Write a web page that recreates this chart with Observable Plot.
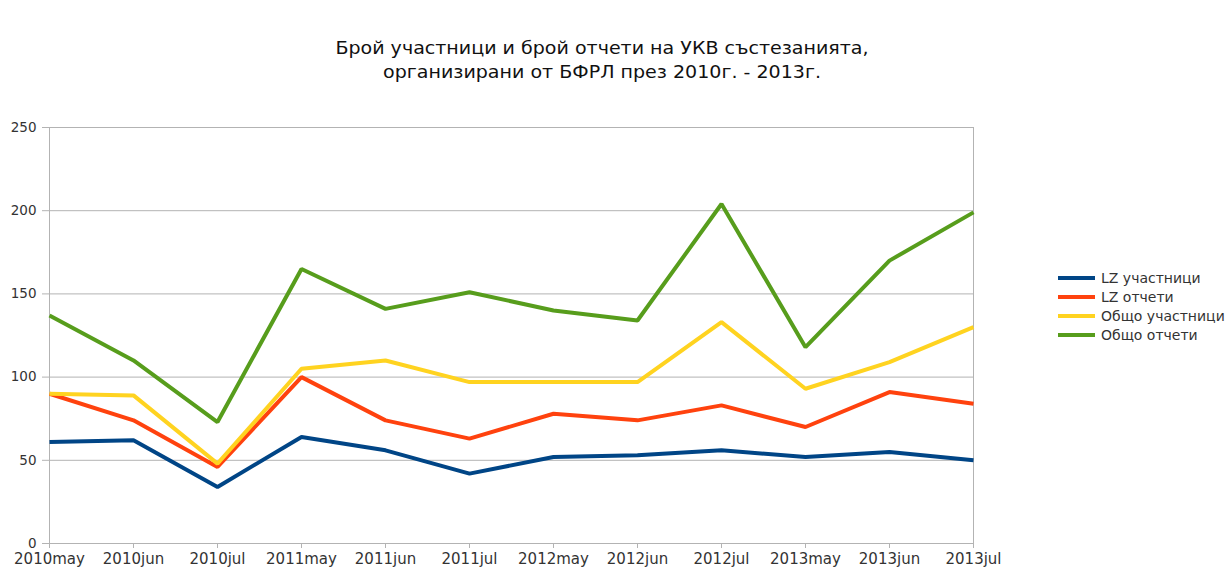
<!DOCTYPE html>
<html>
<head>
<meta charset="utf-8">
<script src="https://cdn.jsdelivr.net/npm/d3@7"></script>
<script src="https://cdn.jsdelivr.net/npm/@observablehq/plot@0.6"></script>
<style>
  html, body { margin: 0; padding: 0; background: #fff; }
  #wrap { position: relative; width: 1232px; height: 568px; overflow: hidden; font-family: "DejaVu Sans", sans-serif; }
  #title { position: absolute; left: 0; top: 36px; width: 1204px; text-align: center; font-size: 17px; line-height: 24px; color: #111; transform: scaleX(1.12); transform-origin: 602px 0; }
  #chart { position: absolute; left: 0; top: 100px; }
  #legend { position: absolute; left: 1058px; top: 268px; font-size: 14px; color: #333; }
  .row { display: flex; align-items: center; height: 19px; white-space: nowrap; }
  .sw { width: 37px; height: 4px; margin-right: 6px; }
</style>
</head>
<body>
<div id="wrap">
  <div id="title">Брой участници и брой отчети на УКВ състезанията,<br>организирани от БФРЛ през 2010г. - 2013г.</div>
  <div id="chart"></div>
  <div id="legend"></div>
</div>
<script>
const categories = ["2010may","2010jun","2010jul","2011may","2011jun","2011jul","2012may","2012jun","2012jul","2013may","2013jun","2013jul"];
const lzParticipants = [61, 62, 34, 64, 56, 42, 52, 53, 56, 52, 55, 50];
const lzReports = [90, 74, 46, 100, 74, 63, 78, 74, 83, 70, 91, 84];
const totalParticipants = [90, 89, 48, 105, 110, 97, 97, 97, 133, 93, 109, 130];
const totalReports = [137, 110, 73, 165, 141, 151, 140, 134, 204, 118, 170, 199];
const seriesNames = ["LZ участници", "LZ отчети", "Общо участници", "Общо отчети"];
const seriesColors = ["#004586", "#ff420e", "#ffd320", "#579d1c"];
const yTicks = [0, 50, 100, 150, 200, 250];

const seriesValues = [lzParticipants, lzReports, totalParticipants, totalReports];
const data = [];
seriesNames.forEach((name, i) => {
  categories.forEach((c, j) => data.push({series: name, cat: c, value: seriesValues[i][j]}));
});

const chart = Plot.plot({
  width: 1232,
  height: 468,
  marginLeft: 49,
  marginRight: 259,
  marginTop: 27,
  marginBottom: 25,
  style: {fontFamily: "DejaVu Sans, sans-serif", background: "white", color: "#333", overflow: "visible"},
  x: {type: "point", domain: categories, padding: 0, label: null},
  y: {domain: [0, 250], label: null},
  color: {domain: seriesNames, range: seriesColors},
  marks: [
    Plot.gridY(yTicks, {stroke: "#b3b3b3", strokeOpacity: 1}),
    Plot.frame({stroke: "#b3b3b3"}),
    Plot.axisY(yTicks, {tickSize: 7, tickPadding: 6, fontSize: 13.5, stroke: "#b3b3b3", fill: "#333", label: null}),
    Plot.axisX({tickSize: 5, tickPadding: 5, fontSize: 15, stroke: "#b3b3b3", fill: "#333", label: null}),
    Plot.line(data, {x: "cat", y: "value", z: "series", stroke: "series", strokeWidth: 4, strokeLinejoin: "miter", strokeLinecap: "butt"})
  ]
});
document.getElementById("chart").appendChild(chart);

const legend = document.getElementById("legend");
seriesNames.forEach((name, i) => {
  const row = document.createElement("div");
  row.className = "row";
  const sw = document.createElement("div");
  sw.className = "sw";
  sw.style.background = seriesColors[i];
  const label = document.createElement("span");
  label.textContent = name;
  row.appendChild(sw);
  row.appendChild(label);
  legend.appendChild(row);
});
</script>
</body>
</html>
